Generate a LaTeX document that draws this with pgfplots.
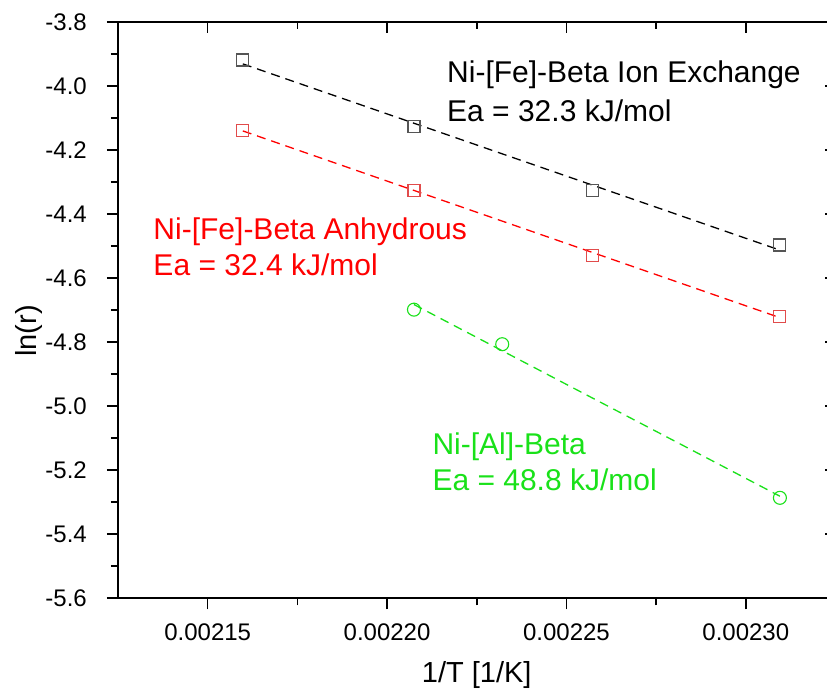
\documentclass[border=0pt]{standalone}
\usepackage{pgfplots}
\pgfplotsset{compat=1.18}
\usepackage{fontspec}
\setmainfont{Liberation Sans}
\definecolor{fitgreen}{RGB}{25,225,25}
\definecolor{mkred}{RGB}{225,75,75}
\definecolor{mkgray}{RGB}{85,85,85}
\begin{document}
\begin{tikzpicture}[x=1bp,y=1bp]
\begin{axis}[
  at={(0,0)}, anchor=south west,
  scale only axis, width=717.5bp, height=576bp,
  xmin=0.002125, xmax=0.002325, ymin=-5.6, ymax=-3.8,
  xtick={0.00215,0.0022,0.00225,0.0023},
  ytick={-5.6,-5.4,-5.2,-5.0,-4.8,-4.6,-4.4,-4.2,-4.0,-3.8},
  minor x tick num=1, minor y tick num=1,
  major tick length=11bp, minor tick length=7bp,
  tick style={black, line width=1.6bp},
  axis line style={black, line width=1.6bp},
  scaled x ticks=false, scaled y ticks=false,
  clip=false,
  axis x line*=bottom, axis y line*=left, tick align=outside,
  xticklabels={0.00215,0.00220,0.00225,0.00230},
  yticklabels={\mbox{-5.6},\mbox{-5.4},\mbox{-5.2},\mbox{-5.0},\mbox{-4.8},\mbox{-4.6},\mbox{-4.4},\mbox{-4.2},\mbox{-4.0},\mbox{-3.8}},
  x tick label style={font=\fontsize{24bp}{28bp}\selectfont, inner sep=0pt, anchor=north, yshift=-14bp},
  y tick label style={font=\fontsize{24bp}{28bp}\selectfont, inner sep=0pt, anchor=east, xshift=-20bp},
]
% fits
\addplot[black, line width=1.3bp, dash pattern=on 9bp off 6bp] coordinates {(0.0021598,-3.930) (0.0023095,-4.512)};
\addplot[red, line width=1.3bp, dash pattern=on 9bp off 6bp] coordinates {(0.0021598,-4.1395) (0.0023095,-4.723)};
\addplot[fitgreen, line width=1.3bp, dash pattern=on 9bp off 6bp] coordinates {(0.0022075,-4.682) (0.0023095,-5.281)};
% data
\addplot[only marks, mark=square, mark size=6bp, mark options={draw=mkgray, line width=1.1bp}] coordinates {(0.0021598,-3.918) (0.0022075,-4.126) (0.0022573,-4.327) (0.0023095,-4.496)};
\addplot[only marks, mark=square, mark size=6bp, mark options={draw=mkred, line width=1.1bp}] coordinates {(0.0021598,-4.137) (0.0022075,-4.325) (0.0022573,-4.530) (0.0023095,-4.718)};
\addplot[only marks, mark=o, mark size=6.5bp, mark options={draw=fitgreen, line width=1.1bp}] coordinates {(0.0022075,-4.698) (0.0022321,-4.806) (0.0023095,-5.286)};
\end{axis}
\begin{axis}[
  at={(0,0)}, anchor=south west,
  scale only axis, width=717.5bp, height=576bp,
  xmin=0.002125, xmax=0.002325, ymin=-5.6, ymax=-3.8,
  xtick={0.00215,0.0022,0.00225,0.0023},
  ytick={-5.6,-5.4,-5.2,-5.0,-4.8,-4.6,-4.4,-4.2,-4.0,-3.8},
  minor x tick num=1, minor y tick num=1,
  major tick length=11bp, minor tick length=7bp,
  tick style={black, line width=1.6bp},
  axis line style={black, line width=1.6bp},
  scaled x ticks=false, scaled y ticks=false,
  axis x line*=top, axis y line*=right, tick align=inside,
  xticklabels={}, yticklabels={},
]
\end{axis}
\begin{scope}[font=\fontsize{30bp}{36bp}\selectfont]
\node[anchor=base west, inner sep=0pt] at (329,515.3) {Ni-[Fe]-Beta Ion Exchange};
\node[anchor=base west, inner sep=0pt] at (329,476.3) {Ea = 32.3 kJ/mol};
\node[anchor=base west, inner sep=0pt, text=red] at (35.3,359) {Ni-[Fe]-Beta Anhydrous};
\node[anchor=base west, inner sep=0pt, text=red] at (35.3,322.3) {Ea = 32.4 kJ/mol};
\node[anchor=base west, inner sep=0pt, text=fitgreen] at (314.3,144) {Ni-[Al]-Beta};
\node[anchor=base west, inner sep=0pt, text=fitgreen] at (314.3,107.3) {Ea = 48.8 kJ/mol};
\end{scope}
\node[font=\fontsize{29bp}{34bp}\selectfont, rotate=90, anchor=center] at (-89,267.3) {ln(r)};
\node[font=\fontsize{29bp}{34bp}\selectfont, anchor=center] at (358.7,-76.7) {1/T [1/K]};
\pgfresetboundingbox
\path (-118,-91.7) rectangle (709,598.3);
\end{tikzpicture}
\end{document}
